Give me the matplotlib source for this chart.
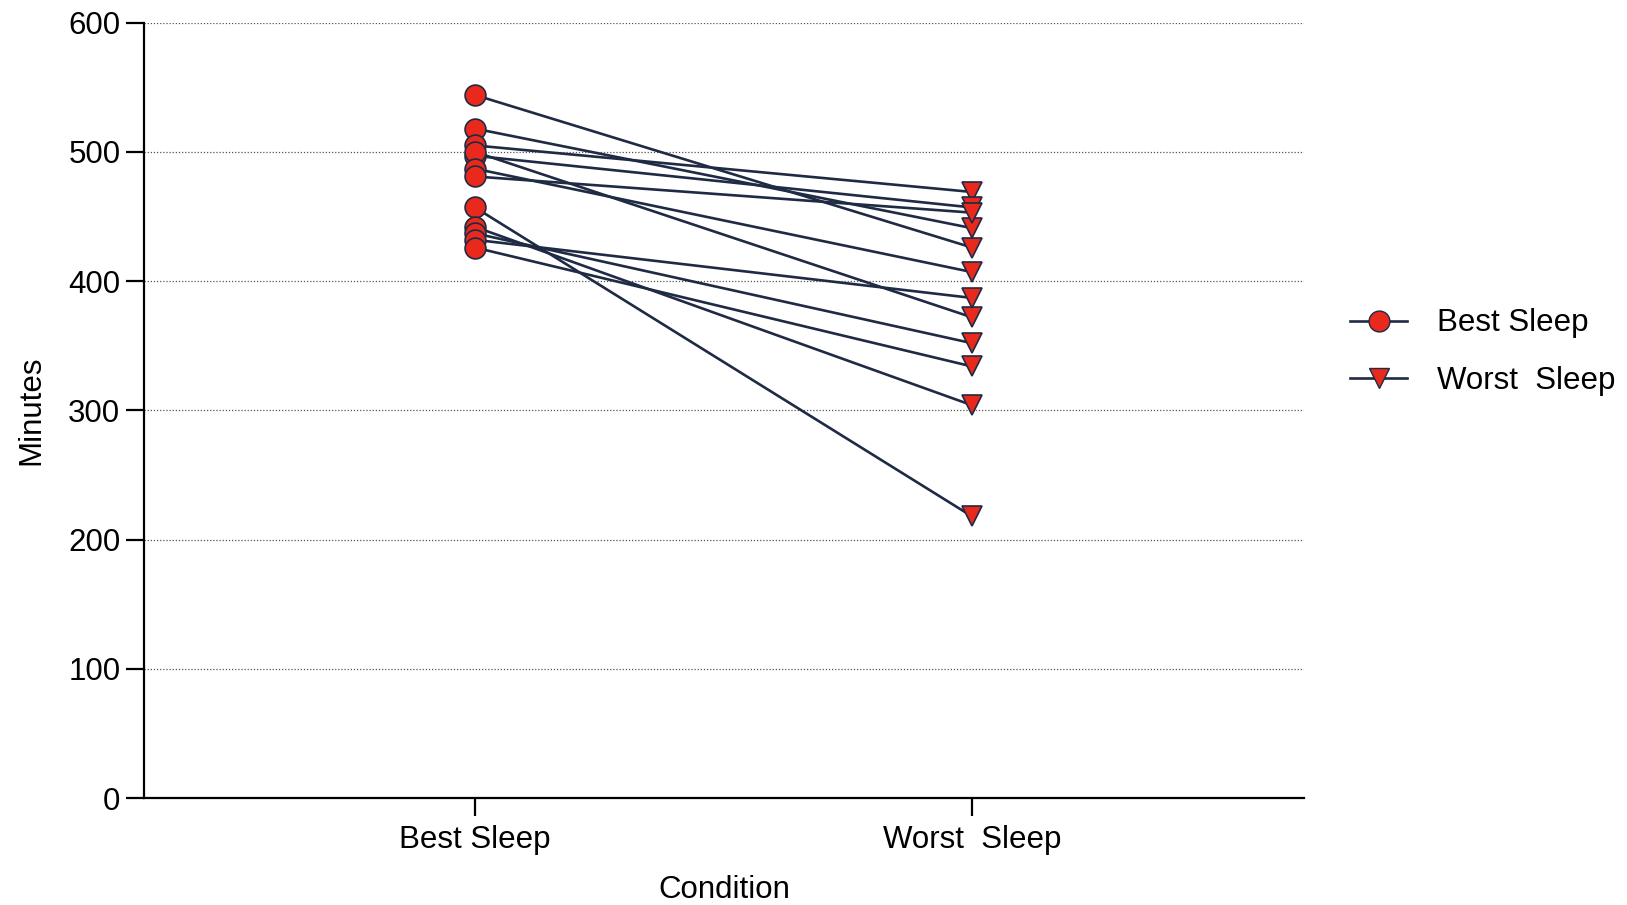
import matplotlib.pyplot as plt
from matplotlib.lines import Line2D

plt.rcParams['font.family'] = ['Liberation Sans', 'DejaVu Sans']

# data (minutes), one pair per subject
conditions = ["Best Sleep", "Worst  Sleep"]
best_sleep = [544, 518, 505, 497, 500, 487, 481, 457, 442, 437, 432, 426]
worst_sleep = [426, 441, 469, 457, 372, 407, 453, 218, 304, 352, 387, 334]
y_ticks = [0, 100, 200, 300, 400, 500, 600]

navy = "#1f2a44"
red = "#e8291c"
fs = 22.5

fig = plt.figure(figsize=(16.27, 9.05), dpi=100)
ax = fig.add_axes([0.0885, 0.118, 0.713, 0.857])

# connecting lines
for b, w in zip(best_sleep, worst_sleep):
    ax.plot([0, 1], [b, w], color=navy, lw=1.9, zorder=2)

ax.plot([0] * len(best_sleep), best_sleep, ls="none", marker="o", ms=15,
        mfc=red, mec=navy, mew=1.2, zorder=3)
ax.plot([1] * len(worst_sleep), worst_sleep, ls="none", marker="v", ms=15,
        mfc=red, mec=navy, mew=1.2, zorder=3)

ax.set_xlim(-0.666, 1.668)
ax.set_ylim(0, 600)
ax.set_yticks(y_ticks)
ax.set_xticks([0, 1])
ax.set_xticklabels(conditions)
ax.yaxis.grid(True, ls=(0, (1, 1.5)), color="#555555", lw=0.9)
ax.set_axisbelow(True)

for s in ["top", "right"]:
    ax.spines[s].set_visible(False)
for s in ["left", "bottom"]:
    ax.spines[s].set_linewidth(1.6)
    ax.spines[s].set_color("black")

ax.tick_params(axis="both", labelsize=fs, width=1.6, length=13, direction="out")
ax.tick_params(axis="y", pad=4)
ax.tick_params(axis="x", pad=6)

ax.set_ylabel("Minutes", fontsize=fs, labelpad=16)
ax.set_xlabel("Condition", fontsize=fs, labelpad=15)

handles = [
    Line2D([], [], color=navy, lw=1.9, marker="o", ms=15, mfc=red, mec=navy),
    Line2D([], [], color=navy, lw=1.9, marker="v", ms=15, mfc=red, mec=navy),
]
fig.legend(handles, conditions, loc="center left", bbox_to_anchor=(0.8125, 0.611),
           frameon=False, fontsize=fs, handlelength=1.83, labelspacing=0.87,
           handletextpad=0.96)

fig.savefig("out.png", dpi=100)
